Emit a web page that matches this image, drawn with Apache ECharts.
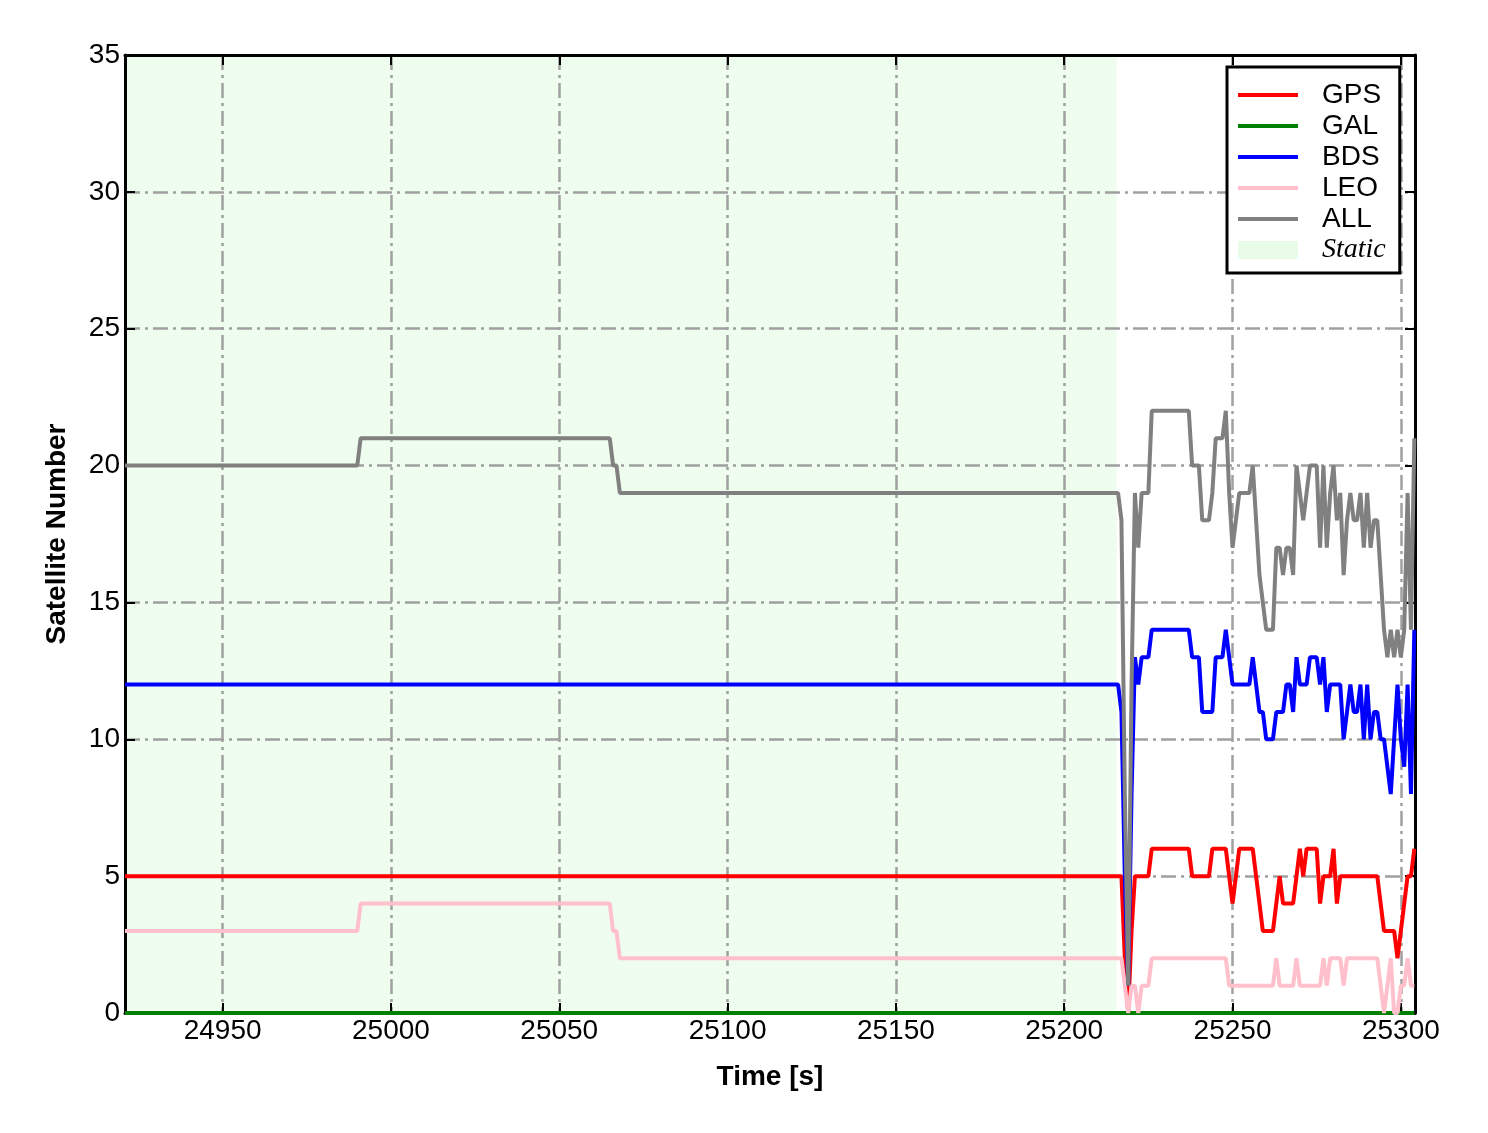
<!DOCTYPE html>
<html>
<head>
<meta charset="utf-8">
<script src="https://cdn.jsdelivr.net/npm/echarts@6/dist/echarts.min.js"></script>
<style>
html,body{margin:0;padding:0;background:#fff;}
#chart{width:1488px;height:1133px;}
</style>
</head>
<body>
<div id="chart"></div>
<script>
// ---- data ----
const times = [24921, 24990, 24991, 25065, 25066, 25067, 25068,
  25216, 25217, 25218, 25219, 25220, 25221, 25222, 25223, 25224, 25225,
  25226, 25227, 25228, 25229, 25230, 25231, 25232, 25233, 25234, 25235,
  25236, 25237, 25238, 25239, 25240, 25241, 25242, 25243, 25244, 25245,
  25246, 25247, 25248, 25249, 25250, 25251, 25252, 25253, 25254, 25255,
  25256, 25257, 25258, 25259, 25260, 25261, 25262, 25263, 25264, 25265,
  25266, 25267, 25268, 25269, 25270, 25271, 25272, 25273, 25274, 25275,
  25276, 25277, 25278, 25279, 25280, 25281, 25282, 25283, 25284, 25285,
  25286, 25287, 25288, 25289, 25290, 25291, 25292, 25293, 25294, 25295,
  25296, 25297, 25298, 25299, 25300, 25301, 25302, 25303, 25304];

const gps = [5, 5, 5, 5, 5, 5, 5,
  5, 5, 2, 0, 3, 5, 5, 5, 5, 5,
  6, 6, 6, 6, 6, 6, 6, 6, 6, 6,
  6, 6, 5, 5, 5, 5, 5, 5, 6, 6,
  6, 6, 6, 5, 4, 5, 6, 6, 6, 6,
  6, 5, 4, 3, 3, 3, 3, 4, 5, 4,
  4, 4, 4, 5, 6, 5, 6, 6, 6, 6,
  4, 5, 5, 5, 6, 4, 5, 5, 5, 5,
  5, 5, 5, 5, 5, 5, 5, 5, 4, 3,
  3, 3, 3, 2, 3, 4, 5, 5, 6];

const gal = [0, 0, 0, 0, 0, 0, 0,
  0, 0, 0, 0, 0, 0, 0, 0, 0, 0,
  0, 0, 0, 0, 0, 0, 0, 0, 0, 0,
  0, 0, 0, 0, 0, 0, 0, 0, 0, 0,
  0, 0, 0, 0, 0, 0, 0, 0, 0, 0,
  0, 0, 0, 0, 0, 0, 0, 0, 0, 0,
  0, 0, 0, 0, 0, 0, 0, 0, 0, 0,
  0, 0, 0, 0, 0, 0, 0, 0, 0, 0,
  0, 0, 0, 0, 0, 0, 0, 0, 0, 0,
  0, 0, 0, 0, 0, 0, 0, 0, 0];

const bds = [12, 12, 12, 12, 12, 12, 12,
  12, 11, 5, 1, 8, 13, 12, 13, 13, 13,
  14, 14, 14, 14, 14, 14, 14, 14, 14, 14,
  14, 14, 13, 13, 13, 11, 11, 11, 11, 13,
  13, 13, 14, 13, 12, 12, 12, 12, 12, 12,
  13, 12, 11, 11, 10, 10, 10, 11, 11, 11,
  12, 12, 11, 13, 12, 12, 12, 13, 13, 13,
  12, 13, 11, 12, 12, 12, 12, 10, 11, 12,
  11, 11, 12, 10, 12, 10, 11, 11, 10, 10,
  9, 8, 10, 12, 10, 9, 12, 8, 14];

const leo = [3, 3, 4, 4, 3, 3, 2,
  2, 2, 1, 0, 1, 1, 0, 1, 1, 1,
  2, 2, 2, 2, 2, 2, 2, 2, 2, 2,
  2, 2, 2, 2, 2, 2, 2, 2, 2, 2,
  2, 2, 2, 1, 1, 1, 1, 1, 1, 1,
  1, 1, 1, 1, 1, 1, 1, 2, 1, 1,
  1, 1, 1, 2, 1, 1, 1, 1, 1, 1,
  1, 2, 1, 2, 2, 2, 2, 1, 2, 2,
  2, 2, 2, 2, 2, 2, 2, 2, 1, 0,
  1, 2, 0, 0, 1, 1, 2, 1, 1];

const all = [20, 20, 21, 21, 20, 20, 19,
  19, 18, 8, 1, 12, 19, 17, 19, 19, 19,
  22, 22, 22, 22, 22, 22, 22, 22, 22, 22,
  22, 22, 20, 20, 20, 18, 18, 18, 19, 21,
  21, 21, 22, 19, 17, 18, 19, 19, 19, 19,
  20, 18, 16, 15, 14, 14, 14, 17, 17, 16,
  17, 17, 16, 20, 19, 18, 19, 20, 20, 20,
  17, 20, 17, 19, 20, 18, 19, 16, 18, 19,
  18, 18, 19, 17, 19, 17, 18, 18, 16, 14,
  13, 14, 13, 14, 13, 14, 19, 14, 21];

const staticSpan = [24921, 25215.6];
const xTicks = [24950, 25000, 25050, 25100, 25150, 25200, 25250, 25300];
const xRange = [24921, 25304.2];
const yRange = [0, 35];

const seriesNames = ['GPS', 'GAL', 'BDS', 'LEO', 'ALL'];
const seriesColors = ['#ff0000', '#008000', '#0000ff', '#ffc0cb', '#808080'];
const seriesValues = [gps, gal, bds, leo, all];
const staticColor = 'rgba(144,238,144,0.2)';

// ---- chart ----
const FONT = '"Liberation Sans", Arial, sans-serif';
const chart = echarts.init(document.getElementById('chart'), null, {renderer: 'canvas'});

const pair = arr => times.map((t, i) => [t, arr[i]]);

const lineSeries = seriesNames.map((name, k) => ({
  name: name,
  type: 'line',
  data: pair(seriesValues[k]),
  showSymbol: false,
  symbol: 'none',
  color: seriesColors[k],
  lineStyle: {color: seriesColors[k], width: 4},
  z: 3,
  animation: false
}));

const staticSeries = {
  name: 'Static',
  type: 'line',
  data: [[staticSpan[0], yRange[1]], [staticSpan[1], yRange[1]]],
  showSymbol: false,
  symbol: 'none',
  color: staticColor,
  itemStyle: {color: staticColor},
  lineStyle: {width: 0, color: staticColor},
  areaStyle: {color: staticColor, origin: 'start'},
  z: -1,
  animation: false
};

// legend line sample: a 60x18 box with a 4px bar in the middle
const lineIcon = 'path://M0,0L0.01,0L0.01,0.01Z M0,7L60,7L60,11L0,11Z M59.99,17.99L60,17.99L60,18Z';

const gridLine = {show: true, lineStyle: {color: '#a0a0a0', width: 2.5, type: [15, 5, 3, 5]}};

const option = {
  backgroundColor: '#ffffff',
  animation: false,
  grid: {left: 125, right: 73, top: 55, bottom: 120, containLabel: false},
  legend: {
    orient: 'vertical',
    left: 1227,
    top: 67,
    padding: [14, 14, 9, 11],
    itemWidth: 60,
    itemHeight: 18,
    itemGap: 3,
    symbolKeepAspect: true,
    backgroundColor: '#ffffff',
    borderColor: '#000000',
    borderWidth: 3,
    borderRadius: 0,
    itemStyle: {borderWidth: 0},
    data: seriesNames.map(n => ({name: n, icon: lineIcon})).concat([{name: 'Static', icon: 'rect'}]),
    formatter: name => name === 'Static' ? '{s|Static}' : name,
    textStyle: {
      fontFamily: FONT, fontSize: 28, color: '#000',
      padding: [0, 0, 0, 19],
      rich: {s: {fontFamily: '"Liberation Serif", "DejaVu Serif", serif', fontStyle: 'italic', fontSize: 28, color: '#000'}}
    }
  },
  xAxis: [{
    type: 'value', position: 'bottom', min: xRange[0], max: xRange[1],
    name: 'Time [s]', nameLocation: 'middle', nameGap: 50,
    nameTextStyle: {fontFamily: FONT, fontSize: 28, fontWeight: 'bold', color: '#000'},
    axisLine: {show: true, onZero: false, lineStyle: {color: '#000', width: 3}},
    axisTick: {show: true, inside: true, length: 10, customValues: xTicks, lineStyle: {color: '#000', width: 2}},
    axisLabel: {show: true, customValues: xTicks, margin: 4, fontFamily: FONT, fontSize: 28, color: '#000',
      formatter: v => String(v)},
    splitLine: gridLine
  }, {
    type: 'value', position: 'top', min: xRange[0], max: xRange[1],
    axisLine: {show: true, onZero: false, lineStyle: {color: '#000', width: 3}},
    axisTick: {show: true, inside: true, length: 10, customValues: xTicks, lineStyle: {color: '#000', width: 2}},
    axisLabel: {show: false},
    splitLine: {show: false}
  }],
  yAxis: [{
    type: 'value', position: 'left', min: yRange[0], max: yRange[1], interval: 5,
    name: 'Satellite Number', nameLocation: 'middle', nameGap: 54,
    nameTextStyle: {fontFamily: FONT, fontSize: 28, fontWeight: 'bold', color: '#000'},
    axisLine: {show: true, onZero: false, lineStyle: {color: '#000', width: 3}},
    axisTick: {show: true, inside: true, length: 10, lineStyle: {color: '#000', width: 2}},
    axisLabel: {show: true, margin: 5, fontFamily: FONT, fontSize: 28, color: '#000'},
    splitLine: gridLine
  }, {
    type: 'value', position: 'right', min: yRange[0], max: yRange[1], interval: 5,
    axisLine: {show: true, onZero: false, lineStyle: {color: '#000', width: 3}},
    axisTick: {show: true, inside: true, length: 10, lineStyle: {color: '#000', width: 2}},
    axisLabel: {show: false},
    splitLine: {show: false}
  }],
  series: [staticSeries].concat(lineSeries)
};

chart.setOption(option);
</script>
</body>
</html>
